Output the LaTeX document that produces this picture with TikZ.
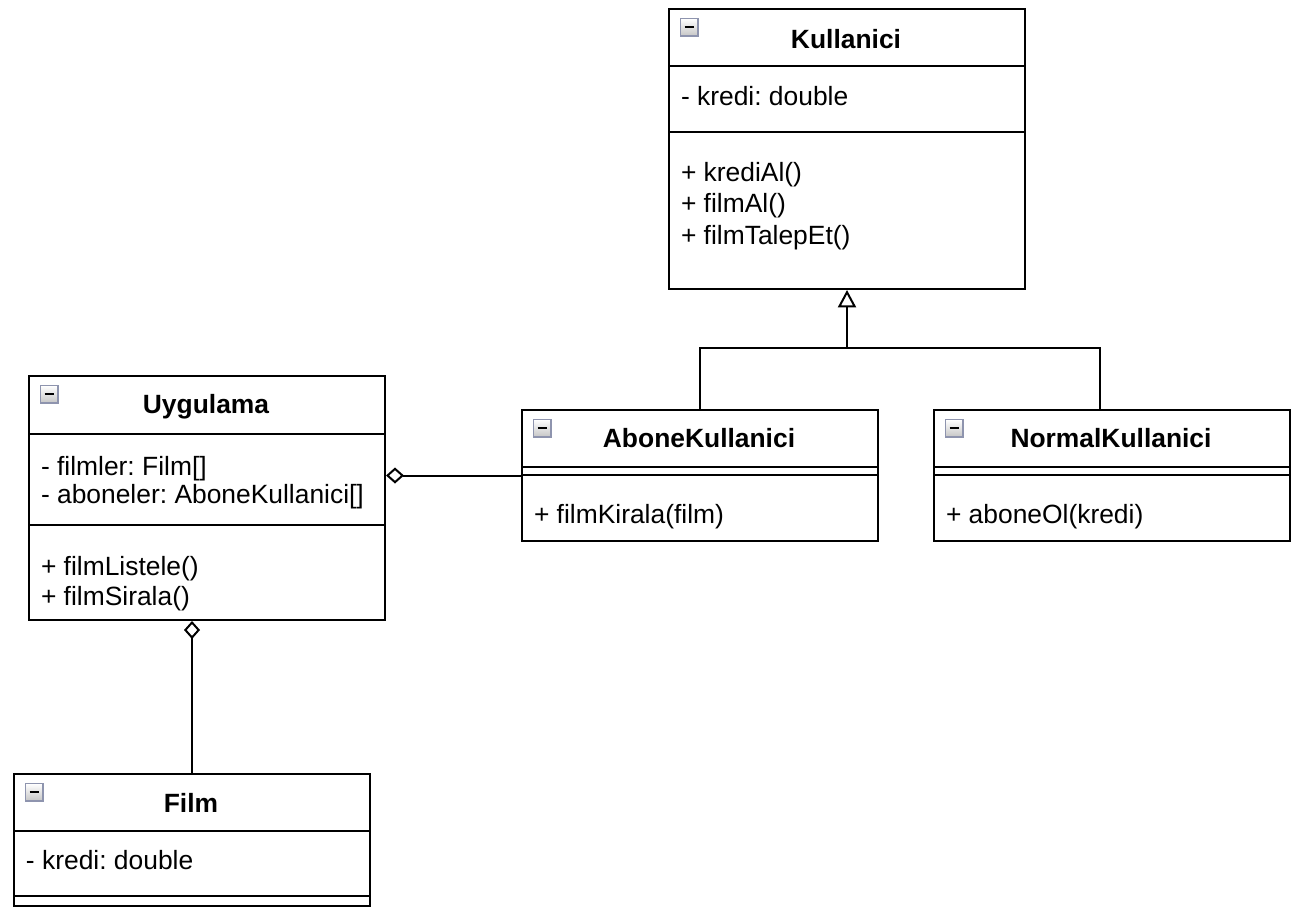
\documentclass[tikz,border=0pt]{standalone}
\usepackage{fontspec}
\setmainfont{Liberation Sans}
\usetikzlibrary{arrows.meta}
\definecolor{iconborder}{HTML}{8E94AE}
\frenchspacing
\begin{document}
\begin{tikzpicture}[x=0.75pt,y=-0.75pt, line width=1.5pt,
 cls/.style={draw, anchor=north west, inner sep=0, minimum width=267pt},
 txt/.style={anchor=base west, inner sep=0, font=\frenchspacing\fontsize{19.8}{24}\selectfont},
 ttl/.style={anchor=base, inner sep=0, font=\fontsize{19.8}{24}\selectfont\bfseries},
 icon/.style={draw=iconborder, line width=0.9pt, top color=white, bottom color=gray!45, minimum size=13pt, inner sep=0, anchor=north west,
   path picture={\draw[black,line width=1.6pt] ([xshift=3pt]path picture bounding box.west) -- ([xshift=-3pt]path picture bounding box.east);}},
 agg/.style={-{Diamond[open,length=13.5pt,width=12pt]}},
 gen/.style={-{Triangle[open,length=13pt,width=13.5pt]}}]
\useasboundingbox (0,0) rectangle (1306,918);

% Kullanici
\node[cls, minimum height=210pt] (kul) at (668,8) {};
\draw (kul.west |- 0,66) -- (kul.east |- 0,66);
\draw (kul.west |- 0,132) -- (kul.east |- 0,132);
\node[icon] (kulicon) at (680,18) {};
\node[ttl] (kult) at (846,48) {Kullanici};
\node[txt] (kula) at (680,105) {- kredi: double};
\node[txt] (kulm1) at (680,181) {+ krediAl()};
\node[txt] (kulm2) at (680,212) {+ filmAl()};
\node[txt] (kulm3) at (680,244) {+ filmTalepEt()};

% Uygulama
\node[cls, minimum height=183pt] (uyg) at (28,375) {};
\draw (uyg.west |- 0,434) -- (uyg.east |- 0,434);
\draw (uyg.west |- 0,525) -- (uyg.east |- 0,525);
\node[icon] (uygicon) at (40,385) {};
\node[ttl] (uygt) at (206,413) {Uygulama};
\node[txt] (uyga1) at (40,475) {- filmler: Film[]};
\node[txt] (uyga2) at (40,503) {- aboneler: AboneKullanici[]};
\node[txt] (uygm1) at (40,575) {+ filmListele()};
\node[txt] (uygm2) at (40,605) {+ filmSirala()};

% AboneKullanici
\node[cls, minimum height=98.25pt] (abone) at (521,409) {};
\draw (abone.west |- 0,467) -- (abone.east |- 0,467);
\draw (abone.west |- 0,475) -- (abone.east |- 0,475);
\node[icon] (aboneicon) at (533,419) {};
\node[ttl] (abonet) at (699,447) {AboneKullanici};
\node[txt] (abonem) at (533,523) {+ filmKirala(film)};

% NormalKullanici
\node[cls, minimum height=98.25pt] (norm) at (933,409) {};
\draw (norm.west |- 0,467) -- (norm.east |- 0,467);
\draw (norm.west |- 0,475) -- (norm.east |- 0,475);
\node[icon] (normicon) at (945,419) {};
\node[ttl] (normt) at (1111,447) {NormalKullanici};
\node[txt] (normm) at (945,523) {+ aboneOl(kredi)};

% Film
\node[cls, minimum height=99pt] (film) at (13,773) {};
\draw (film.west |- 0,831) -- (film.east |- 0,831);
\draw (film.west |- 0,896) -- (film.east |- 0,896);
\node[icon] (filmicon) at (25,783) {};
\node[ttl] (filmt) at (191,812) {Film};
\node[txt] (filma) at (25,869) {- kredi: double};

% generalization
\coordinate (gj) at (kul.south |- 0,348);
\coordinate (nt) at ([xshift=-9pt]norm.north);
\draw (abone.north) |- (gj) -| (nt);
\draw[gen] (gj) -- (kul.south);

% aggregations
\draw[agg] (abone.west) -- (abone.west -| uyg.east);
\draw[agg] (film.north) -- (film.north |- uyg.south);
\end{tikzpicture}
\end{document}
